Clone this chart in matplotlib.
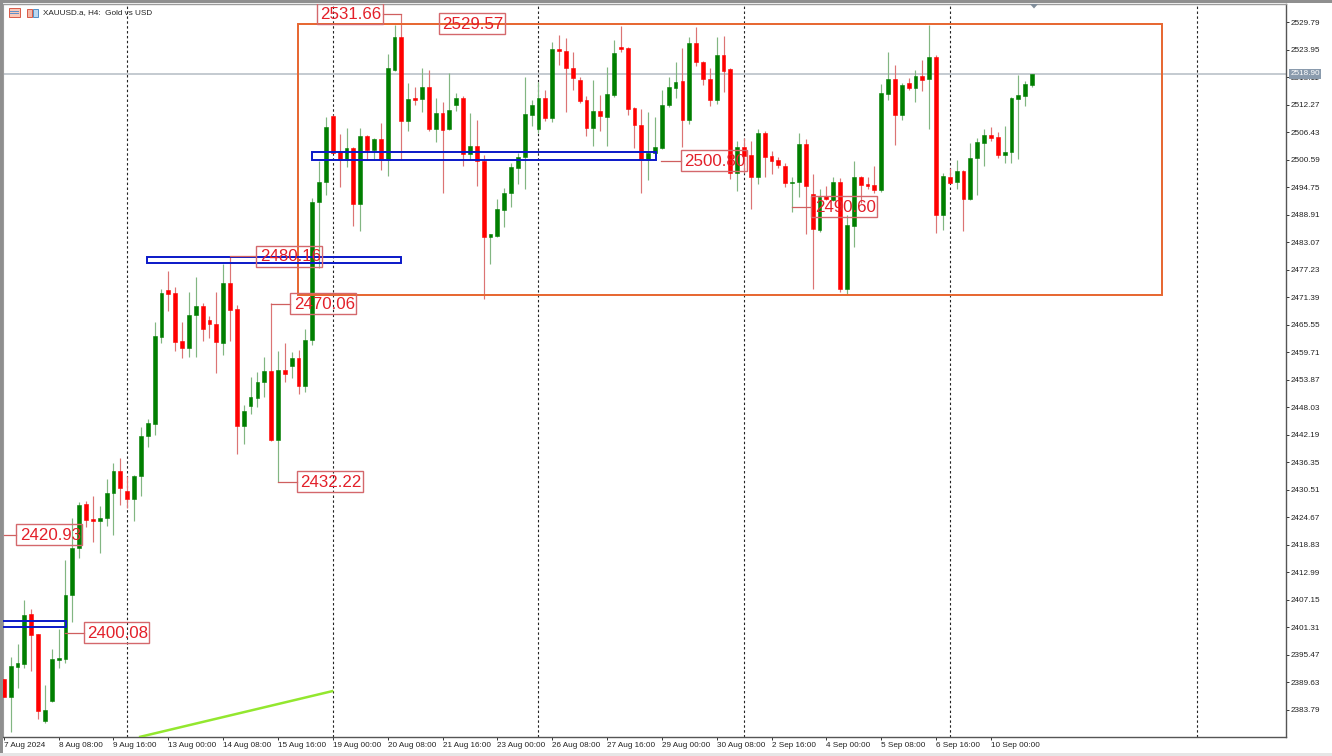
import matplotlib
matplotlib.use("Agg")
import matplotlib.pyplot as plt
from matplotlib.patches import Rectangle, Polygon

opens = [2390.3,2386.5,2392.8,2393.5,2404.1,2399.8,2381.4,2385.6,2394.3,2394.5,
2408.1,2418.1,2427.5,2424.3,2423.9,2424.5,2429.8,2434.5,2430.2,2428.5,
2433.4,2441.9,2444.5,2463.0,2472.9,2472.3,2462.1,2460.6,2467.6,2469.5,
2466.6,2465.7,2461.7,2474.4,2468.9,2444.0,2448.3,2450.0,2453.4,2455.7,
2441.1,2455.9,2456.8,2458.5,2452.5,2462.3,2491.6,2495.9,2509.9,2502.3,
2500.6,2503.1,2491.2,2505.7,2502.7,2505.0,2500.6,2519.7,2526.7,2508.9,
2513.7,2513.5,2516.1,2507.2,2510.6,2507.2,2512.3,2513.7,2501.8,2503.5,
2500.4,2484.2,2484.4,2489.9,2493.6,2498.9,2501.2,2510.1,2507.2,2513.7,
2509.5,2524.2,2523.7,2520.1,2517.6,2513.3,2507.4,2511.0,2509.7,2514.4,
2524.6,2524.4,2511.6,2508.0,2500.6,2502.1,2503.1,2512.3,2515.9,2517.4,
2509.1,2525.4,2521.4,2517.8,2513.3,2522.9,2519.9,2497.8,2503.3,2501.6,
2497.0,2506.3,2501.4,2500.6,2499.3,2495.7,2495.9,2504.0,2493.3,2485.7,
2492.9,2492.1,2495.9,2473.2,2486.5,2497.0,2495.5,2495.3,2494.2,2514.6,
2517.8,2510.1,2516.9,2515.9,2518.4,2517.8,2522.5,2488.9,2497.0,2495.9,
2498.2,2492.3,2501.0,2504.2,2505.9,2505.5,2501.6,2502.3,2513.5,2514.2,2516.5]
highs = [2390.3,2395.0,2397.7,2407.1,2405.2,2399.8,2389.0,2396.7,2400.9,2415.6,
2424.5,2427.9,2428.1,2429.2,2427.0,2432.8,2436.2,2437.2,2433.4,2433.6,
2443.8,2445.5,2466.1,2473.2,2477.0,2473.6,2466.1,2472.5,2475.7,2470.2,
2467.4,2472.5,2478.5,2480.2,2469.8,2448.5,2454.5,2455.5,2458.7,2470.1,
2460.0,2461.7,2459.8,2460.2,2464.7,2492.5,2500.4,2509.7,2510.1,2506.1,
2507.4,2503.3,2507.4,2505.9,2505.2,2508.4,2523.1,2529.3,2531.7,2516.9,
2516.1,2520.1,2519.7,2513.7,2512.9,2519.1,2514.8,2514.2,2510.6,2509.1,
2501.6,2484.9,2492.3,2494.6,2499.9,2502.1,2518.2,2513.3,2517.1,2515.4,
2525.6,2527.1,2526.5,2523.5,2518.2,2514.2,2517.6,2514.4,2520.3,2526.1,
2529.0,2524.6,2511.8,2511.4,2510.8,2509.7,2515.4,2518.2,2521.4,2524.4,
2526.7,2528.8,2521.6,2520.1,2526.7,2526.9,2520.1,2504.6,2505.2,2504.6,
2507.2,2506.7,2502.5,2501.2,2499.9,2497.0,2506.3,2505.0,2497.6,2494.4,
2495.0,2497.0,2496.7,2488.9,2500.4,2497.2,2497.0,2499.3,2516.7,2523.5,
2520.8,2516.9,2518.0,2519.7,2521.8,2529.3,2522.9,2497.8,2498.9,2500.6,
2498.4,2504.2,2505.2,2507.2,2507.6,2506.5,2507.8,2514.0,2518.6,2517.4,2518.9]
lows = [2386.5,2379.0,2388.4,2392.6,2392.0,2381.8,2380.9,2385.4,2392.6,2393.7,
2402.4,2416.0,2422.6,2419.4,2417.1,2422.8,2420.9,2427.3,2426.6,2423.9,
2429.2,2439.6,2442.1,2461.7,2468.5,2460.0,2458.5,2458.7,2458.7,2462.1,
2462.7,2455.3,2459.1,2462.1,2438.1,2440.2,2446.6,2448.1,2450.2,2440.9,
2432.2,2453.4,2454.2,2450.8,2451.3,2461.3,2477.6,2493.1,2502.0,2494.8,
2499.1,2486.5,2485.5,2500.6,2500.6,2498.4,2497.2,2519.5,2500.6,2506.7,
2512.3,2510.8,2506.7,2504.4,2493.6,2506.9,2511.0,2499.3,2500.6,2495.0,
2471.0,2478.5,2484.2,2486.3,2490.6,2495.5,2494.4,2507.8,2506.3,2508.9,
2508.6,2520.8,2510.8,2515.4,2512.7,2505.7,2503.5,2506.7,2503.5,2514.0,
2523.5,2510.1,2503.1,2493.6,2496.3,2502.0,2503.0,2511.8,2513.7,2503.3,
2508.2,2520.5,2516.5,2512.0,2512.5,2515.0,2496.5,2494.0,2497.8,2490.2,
2495.5,2497.0,2497.6,2498.9,2494.8,2489.5,2492.7,2484.8,2473.2,2485.3,
2492.1,2491.9,2472.5,2472.1,2482.1,2491.4,2494.4,2493.6,2493.8,2513.3,
2503.8,2509.1,2515.4,2512.9,2515.2,2507.2,2485.1,2485.7,2495.6,2494.4,
2485.5,2492.1,2493.1,2499.3,2504.6,2501.0,2499.9,2499.9,2500.8,2512.0,2516.1]
closes = [2386.5,2393.0,2393.7,2403.9,2399.6,2383.5,2383.7,2394.5,2394.7,2408.1,
2418.1,2427.3,2424.1,2423.9,2424.5,2429.8,2434.5,2430.9,2428.5,2433.4,
2441.9,2444.7,2463.2,2472.3,2472.1,2461.9,2460.6,2467.6,2469.5,2464.7,
2465.7,2461.9,2474.4,2468.7,2444.0,2447.2,2450.2,2453.4,2455.7,2441.1,
2455.9,2455.1,2458.5,2452.5,2462.3,2491.6,2495.9,2507.6,2502.1,2500.6,
2503.1,2491.2,2505.7,2502.7,2505.0,2500.6,2520.1,2526.7,2508.9,2513.5,
2513.3,2516.1,2507.2,2510.6,2506.9,2511.2,2513.7,2501.8,2503.5,2500.4,
2484.2,2484.8,2490.2,2493.6,2499.1,2501.2,2510.3,2512.3,2513.7,2509.5,
2524.2,2523.7,2520.1,2518.0,2513.1,2507.4,2511.0,2509.9,2514.6,2523.3,
2524.2,2511.4,2508.0,2500.6,2502.1,2503.3,2512.3,2516.1,2517.1,2509.1,
2525.4,2521.4,2517.8,2513.3,2522.9,2519.5,2497.8,2503.3,2501.4,2497.0,
2506.3,2501.2,2500.4,2499.5,2495.7,2495.9,2504.0,2495.0,2485.9,2492.7,
2492.3,2495.9,2473.2,2486.8,2497.0,2495.3,2495.0,2494.2,2514.8,2517.8,
2510.1,2516.5,2515.9,2518.4,2517.6,2522.5,2488.9,2497.2,2495.7,2498.2,
2492.3,2501.0,2504.4,2505.9,2505.2,2501.6,2502.3,2513.7,2514.4,2516.7,2518.9]

price_ticks = [2383.79,2389.63,2395.47,2401.31,2407.15,2412.99,2418.83,2424.67,2430.51,
2436.35,2442.19,2448.03,2453.87,2459.71,2465.55,2471.39,2477.23,2483.07,2488.91,
2494.75,2500.59,2506.43,2512.27,2518.11,2523.95,2529.79]
time_labels = ["7 Aug 2024","8 Aug 08:00","9 Aug 16:00","13 Aug 00:00","14 Aug 08:00",
"15 Aug 16:00","19 Aug 00:00","20 Aug 08:00","21 Aug 16:00","23 Aug 00:00","26 Aug 08:00",
"27 Aug 16:00","29 Aug 00:00","30 Aug 08:00","2 Sep 16:00","4 Sep 00:00","5 Sep 08:00",
"6 Sep 16:00","10 Sep 00:00"]
time_bars = list(range(0, 152, 8))
grid_bars = [18, 48, 78, 108, 138, 174]
last_price = 2518.90

range_box = (42.9, 169.0, 2471.9, 2529.57)
blue_boxes = [(20.9, 57.96, 2478.7, 2480.0), (45.0, 95.1, 2500.6, 2502.3), (-1.0, 9.1, 2401.3, 2402.6)]
trend_x = [19.9, 47.9]
trend_y = [2378.0, 2387.7]

# text, price, left of box (bars), start of connector (bars)
level_text = ["2531.66","2529.57","2500.80","2490.60","2480.16","2470.06","2432.22","2420.93","2400.08"]
level_price = [2531.66,2529.57,2500.40,2490.60,2480.16,2470.06,2432.22,2420.93,2400.08]
level_left = [45.7,63.5,98.8,117.8,36.8,41.8,42.8,1.8,11.7]
level_from = [58.0,None,95.9,115.0,33.0,39.0,40.0,0.0,9.0]

W, H = 1332, 756
fig = plt.figure(figsize=(W/100, H/100), dpi=100, facecolor="white")
ax = fig.add_axes([3/W, 1-737/H, (1286-3)/W, (737-4)/H])
ax.set_xlim(-0.117, 187.05)
ax.set_ylim(2377.96, 2533.72)
plt.rcParams["font.family"] = ["Liberation Sans", "DejaVu Sans"]

# window chrome
fig.add_artist(Rectangle((0, 1-2.5/H), 1, 2.5/H, transform=fig.transFigure, fc="#8f8f8f", ec="none"))
fig.add_artist(Rectangle((0, 0), 2.5/W, 1, transform=fig.transFigure, fc="#8f8f8f", ec="none"))
fig.add_artist(Rectangle((0, 0), 1, 3/H, transform=fig.transFigure, fc="#e6e6e6", ec="none"))

for g in grid_bars:
    ax.axvline(g, color="#222222", lw=0.8, dashes=(2.2, 2.2), zorder=1)
ax.axhline(last_price, color="#b4bcc4", lw=1.1, zorder=1.5)

for i, (o, h, l, c) in enumerate(zip(opens, highs, lows, closes)):
    col = "#007f00" if c >= o else "#ff0000"
    wick = "#82b682" if c >= o else "#dc7474"
    ax.vlines(i, l, h, color=wick, lw=0.85, zorder=2)
    ax.bar(i, c - o, bottom=o, width=0.56, color=col, edgecolor=col, lw=0.4, zorder=3)

ax.add_patch(Rectangle((range_box[0], range_box[2]), range_box[1]-range_box[0], range_box[3]-range_box[2],
                       fc="none", ec="#e7652f", lw=1.4, zorder=4))
for x0, x1, y0, y1 in blue_boxes:
    ax.add_patch(Rectangle((x0, y0), x1-x0, y1-y0, fc="none", ec="#0a18c8", lw=1.4, zorder=4))
ax.plot(trend_x, trend_y, color="#93e72f", lw=1.8, zorder=4)

bw, bh = 9.55, 4.46
for t, p, left, frm in zip(level_text, level_price, level_left, level_from):
    if frm is not None:
        x_end = left + bw if frm > left else left
        ax.plot([frm, x_end], [p, p], color="#cf5f5f", lw=0.9, zorder=5)
    ax.add_patch(Rectangle((left, p - bh/2), bw, bh, fc="none", ec="#d4686c", lw=1.0, zorder=6))
    ax.text(left + bw/2 + 0.2, p - 0.1, t, color="#e3202a", fontsize=12.2, ha="center", va="center",
            family="Liberation Sans", zorder=7)

# axes look
for s in ("top",):
    ax.spines[s].set_color("#9a9a9a"); ax.spines[s].set_linewidth(1.0)
ax.spines["left"].set_color("#9a9a9a"); ax.spines["left"].set_linewidth(0.8)
ax.spines["right"].set_color("#555555"); ax.spines["right"].set_linewidth(1.0)
ax.spines["bottom"].set_color("#555555"); ax.spines["bottom"].set_linewidth(1.0)
ax.yaxis.tick_right()
ax.set_yticks(price_ticks)
ax.set_yticklabels([f"{v:.2f}" for v in price_ticks], fontsize=5.9, color="#222222", family="Liberation Sans")
ax.set_xticks(time_bars)
ax.set_xticklabels(time_labels, fontsize=5.9, color="#222222", ha="left", family="Liberation Sans")
ax.tick_params(axis="y", length=2.2, width=0.7, pad=1.2, color="#333333")
ax.tick_params(axis="x", length=2.2, width=0.7, pad=1.5, color="#333333")

# current price tag
ax.annotate(f"{last_price:.2f}", xy=(1.0, last_price), xycoords=("axes fraction", "data"),
            xytext=(3.0, 0), textcoords="offset points", fontsize=5.9, color="white", va="center",
            family="Liberation Sans", zorder=10, annotation_clip=False,
            bbox=dict(boxstyle="square,pad=0.2", fc="#8a9bad", ec="none"))

# header
fig.text(43/W, 1-13/H, "XAUUSD.a, H4:  Gold vs USD", fontsize=5.9, color="#222222", va="center",
         family="Liberation Sans")
def box(x, y, w, h, **k):
    fig.add_artist(Rectangle((x/W, 1-(y+h)/H), w/W, h/H, transform=fig.transFigure, **k))
box(8.5, 8.5, 11, 8.5, fc="#f8c8b8", ec="#d85a48", lw=0.7)
box(9.5, 11, 9, 0.8, fc="#5f90c8", ec="none")
box(9.5, 13.5, 9, 0.8, fc="#5f90c8", ec="none")
box(26.5, 9, 5, 8, fc="#f4b8a8", ec="#d85a48", lw=0.7)
box(32.5, 9, 5, 8, fc="#bcd8f0", ec="#4f90c8", lw=0.7)
# shift marker on top edge
fig.add_artist(Polygon([(1030/W, 1-4/H), (1038/W, 1-4/H), (1034/W, 1-8.5/H)], transform=fig.transFigure,
                       fc="#7f8c99", ec="none", closed=True))

fig.savefig("out.png", dpi=100, facecolor="white")
